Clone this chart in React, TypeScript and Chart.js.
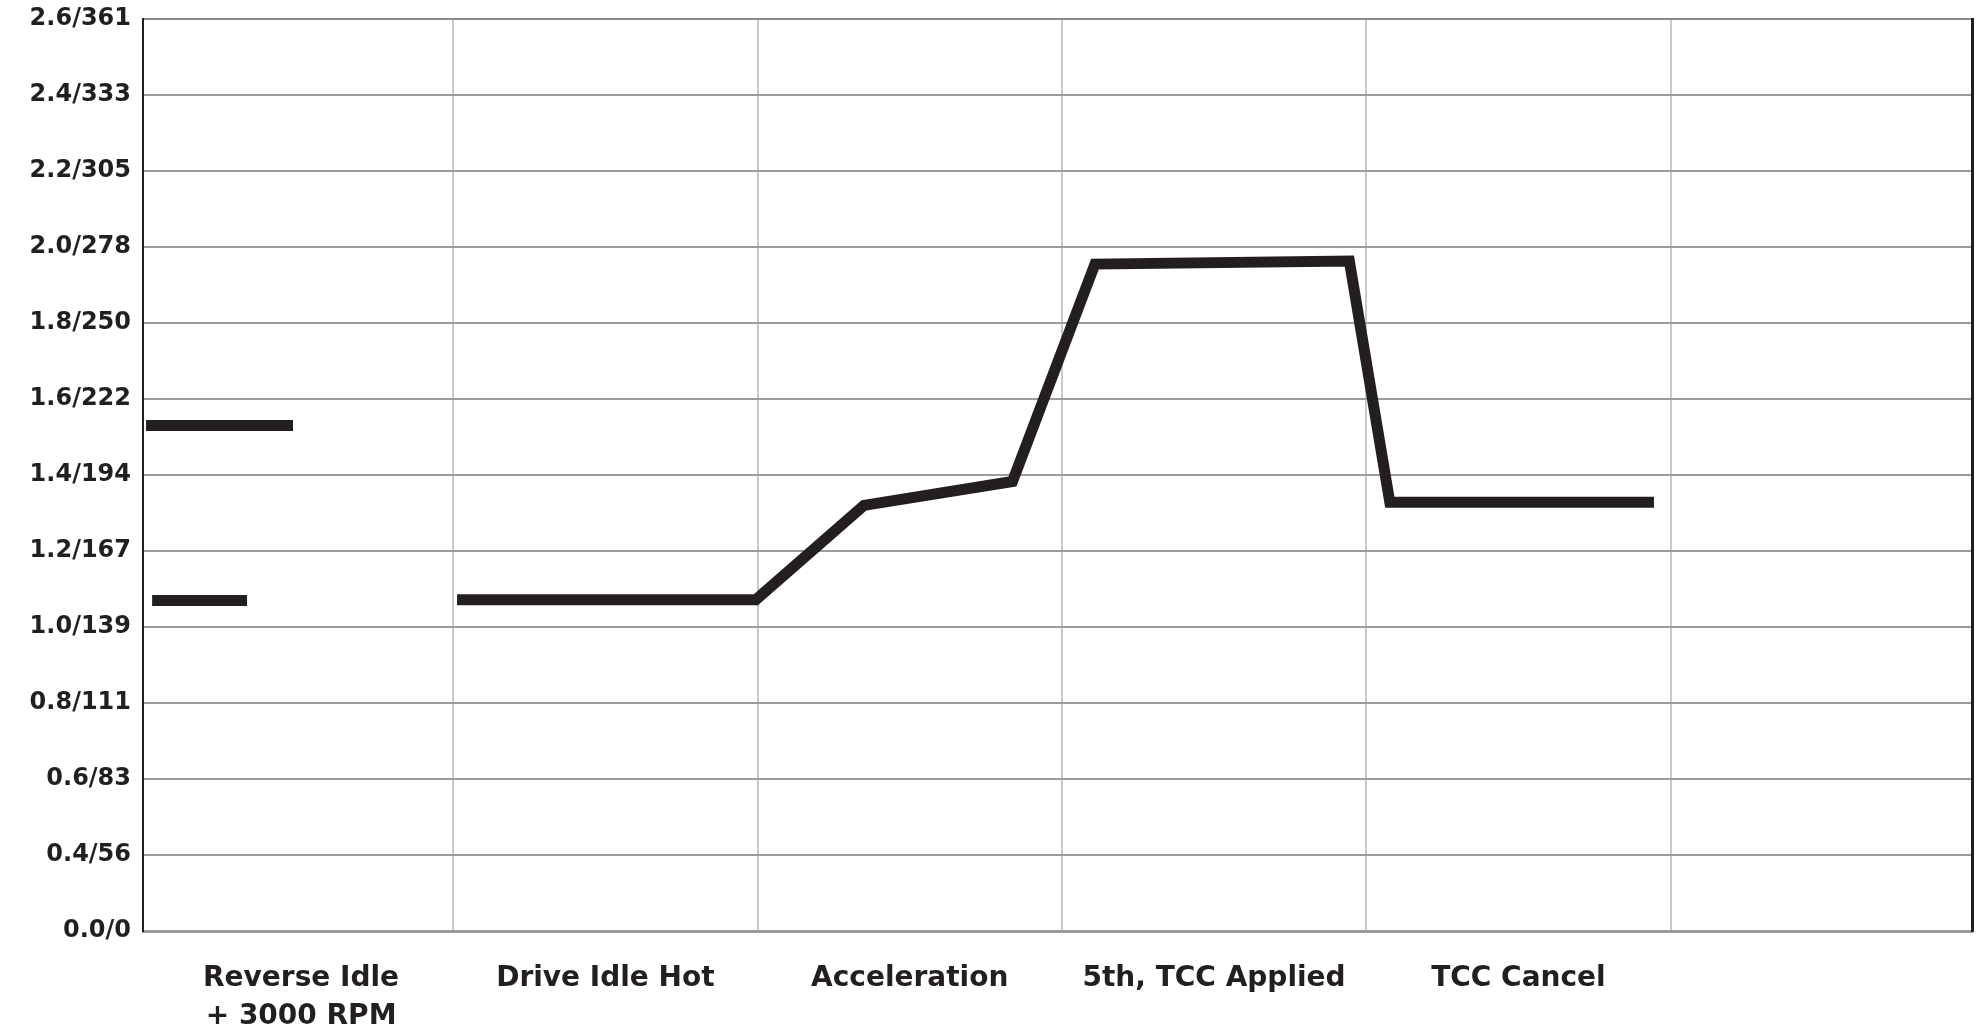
import React, { useEffect, useRef } from "react";
import { Chart, registerables } from "chart.js";

Chart.register(...registerables);

// Category labels along the x axis (one per interval)
const CATEGORIES: (string | string[])[] = [
  ["Reverse Idle", "+ 3000 RPM"],
  "Drive Idle Hot",
  "Acceleration",
  "5th, TCC Applied",
  "TCC Cancel",
  "",
];

// Y axis tick values (bar) and their psi equivalents, equally spaced on the chart
const Y_TICK_BAR = [0.0, 0.4, 0.6, 0.8, 1.0, 1.2, 1.4, 1.6, 1.8, 2.0, 2.2, 2.4, 2.6];
const Y_TICK_PSI = [0, 56, 83, 111, 139, 167, 194, 222, 250, 278, 305, 333, 361];

// Series (x = position along the test categories, y = pressure in bar)
const REVERSE_3000_X = [-0.01, 0.473];
const REVERSE_3000_Y = [1.53, 1.53];

const REVERSE_IDLE_X = [0.01, 0.322];
const REVERSE_IDLE_Y = [1.07, 1.07];

const DRIVE_X = [1.012, 1.994, 2.349, 2.837, 3.108, 3.944, 4.077, 4.945];
const DRIVE_Y = [1.072, 1.072, 1.32, 1.383, 1.955, 1.963, 1.328, 1.328];

// Map a pressure value to the equally spaced tick index of the axis
function toAxis(v: number): number {
  for (let i = 0; i < Y_TICK_BAR.length - 1; i++) {
    const a = Y_TICK_BAR[i];
    const b = Y_TICK_BAR[i + 1];
    if (v <= b || i === Y_TICK_BAR.length - 2) {
      return i + (v - a) / (b - a);
    }
  }
  return 0;
}

function points(xs: number[], ys: number[]) {
  return xs.map((x, i) => ({ x, y: toAxis(ys[i]) }));
}

const LINE_COLOR = "#231f20";
const FONT = "'DejaVu Sans', sans-serif";

export default function App() {
  const ref = useRef<HTMLCanvasElement | null>(null);

  useEffect(() => {
    document.body.style.margin = "0";
    const canvas = ref.current;
    if (!canvas) return;

    const lineStyle = {
      borderColor: LINE_COLOR,
      borderWidth: 11,
      pointRadius: 0,
      tension: 0,
      borderCapStyle: "butt" as const,
      borderJoinStyle: "miter" as const,
      fill: false,
    };

    const chart = new Chart(canvas, {
      type: "line",
      data: {
        datasets: [
          { label: "Reverse + 3000 RPM", data: points(REVERSE_3000_X, REVERSE_3000_Y), ...lineStyle },
          { label: "Reverse Idle", data: points(REVERSE_IDLE_X, REVERSE_IDLE_Y), ...lineStyle },
          { label: "Drive", data: points(DRIVE_X, DRIVE_Y), ...lineStyle },
        ],
      },
      options: {
        animation: false,
        responsive: true,
        maintainAspectRatio: false,
        devicePixelRatio: 1,
        layout: { padding: { top: 19, right: 7, left: 0, bottom: 0 } },
        plugins: {
          legend: { display: false },
          tooltip: { enabled: false },
        },
        scales: {
          x: {
            type: "linear",
            min: -0.02,
            max: 5.99,
            afterBuildTicks: (scale: any) => {
              scale.ticks = [0, 1, 2, 3, 4, 5].map((v) => ({ value: v }));
            },
            afterFit: (scale: any) => {
              scale.height = 99;
              scale.paddingLeft = 0;
              scale.paddingRight = 0;
            },
            ticks: {
              callback: (_v: any, i: number) => CATEGORIES[i],
              labelOffset: 152,
              padding: 28,
              maxRotation: 0,
              autoSkip: false,
              color: LINE_COLOR,
              font: { family: FONT, size: 28, weight: "bold", lineHeight: 1.38 },
            },
            grid: {
              drawTicks: false,
              lineWidth: 2,
              color: (ctx: any) => (ctx.index === 0 ? "rgba(0,0,0,0)" : "#c9c9c9"),
            },
            border: { display: true, color: "#9a9a9a", width: 3 },
          },
          y: {
            type: "linear",
            min: 0,
            max: 12,
            afterBuildTicks: (scale: any) => {
              scale.ticks = Y_TICK_BAR.map((_b, i) => ({ value: i }));
            },
            afterFit: (scale: any) => {
              scale.width = 143;
              scale.paddingTop = 0;
              scale.paddingBottom = 0;
            },
            ticks: {
              callback: (v: any) => {
                const i = Math.round(Number(v));
                return `${Y_TICK_BAR[i].toFixed(1)}/${Y_TICK_PSI[i]}`;
              },
              padding: 12,
              color: LINE_COLOR,
              font: { family: FONT, size: 24, weight: "bold" },
            },
            grid: {
              drawTicks: false,
              lineWidth: 2,
              color: (ctx: any) => (ctx.index === 0 ? "rgba(0,0,0,0)" : ctx.index === 12 ? "#8c8c8c" : "#9c9c9c"),
            },
            border: { display: true, color: LINE_COLOR, width: 2 },
          },
          yRight: {
            type: "linear",
            position: "right",
            min: 0,
            max: 12,
            afterFit: (scale: any) => {
              scale.width = 0;
              scale.paddingTop = 0;
              scale.paddingBottom = 0;
            },
            ticks: { display: false },
            grid: { display: false, drawTicks: false },
            border: { display: true, color: LINE_COLOR, width: 3 },
          },
        },
      },
    });

    return () => {
      chart.destroy();
    };
  }, []);

  return (
    <div style={{ position: "relative", width: "1979px", height: "1030px", background: "#ffffff" }}>
      <canvas ref={ref} />
    </div>
  );
}
